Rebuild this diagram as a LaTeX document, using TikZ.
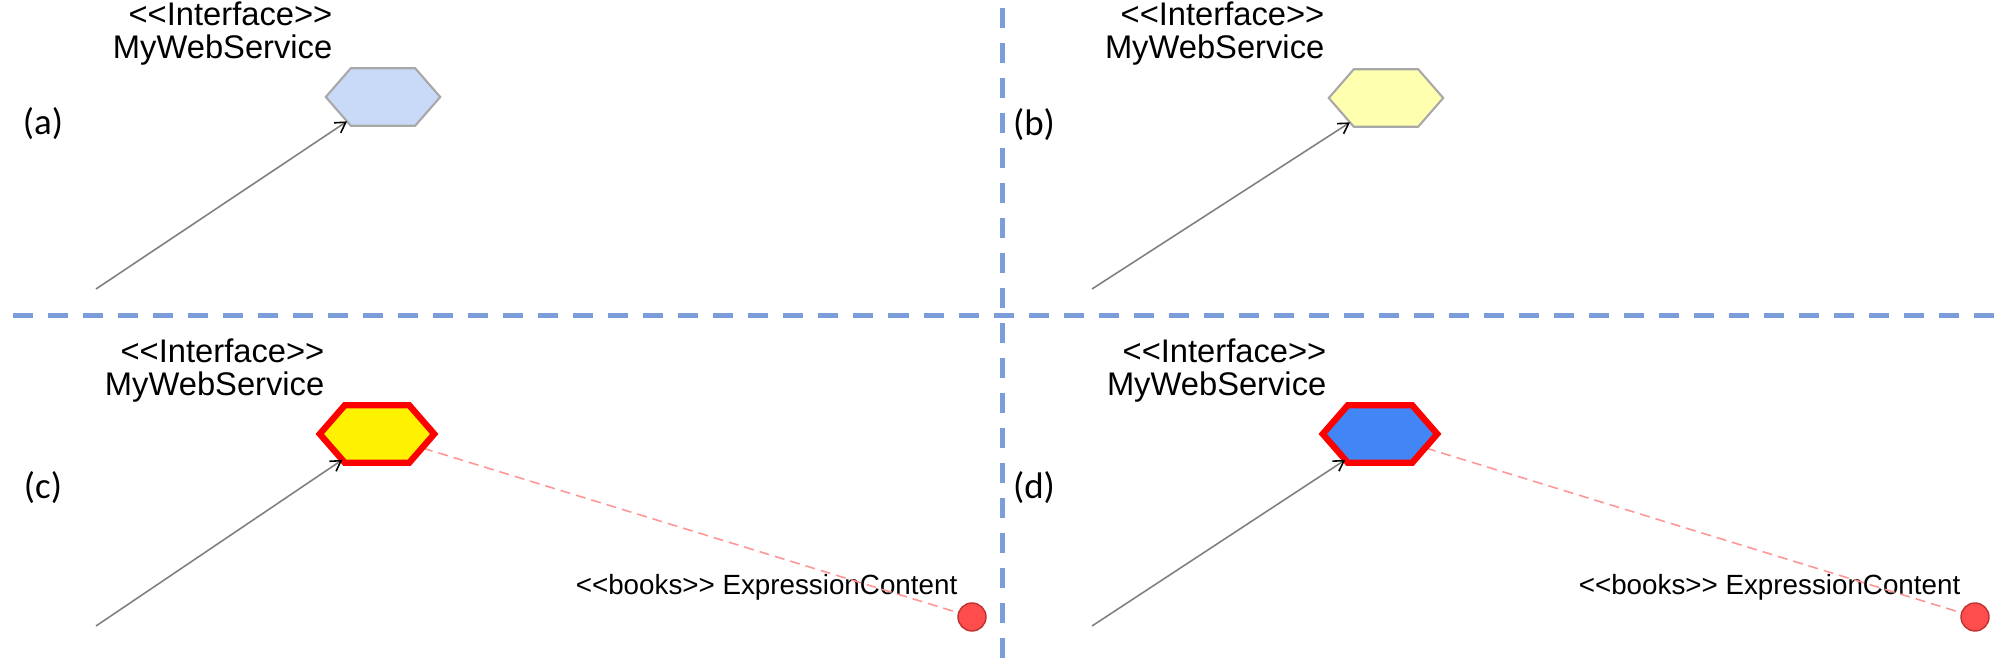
\documentclass[tikz,border=0pt]{standalone}
\usepackage{fontspec}
\newfontfamily\umlfont{Liberation Sans}
\newfontfamily\tagfont{Carlito}
\usepackage{tikz}
\usetikzlibrary{arrows.meta}
\usetikzlibrary{calc}
\definecolor{divider}{RGB}{123,157,217}
\definecolor{paleblue}{RGB}{201,218,248}
\definecolor{paleyellow}{RGB}{255,255,176}
\definecolor{hexgray}{RGB}{168,168,168}
\definecolor{strongblue}{RGB}{66,133,244}
\definecolor{dotred}{RGB}{255,77,77}
\definecolor{dotedge}{RGB}{190,50,50}
\definecolor{linkred}{RGB}{255,150,150}

\begin{document}
\begin{tikzpicture}[
      x=0.01cm, y=-0.01cm,
      iface/.style={align=right, anchor=east, inner sep=0pt,
        font=\umlfont\fontsize{9.3pt}{9.4pt}\selectfont},
      tag/.style={inner sep=0pt, font=\tagfont\fontsize{10.5pt}{12pt}\selectfont},
      hexbox/.style={minimum width=1.13cm, minimum height=0.56cm, inner sep=0pt},
      hexagon/.style={insert path={(#1.west) -- ([xshift=0.25cm]#1.north west)
        -- ([xshift=-0.25cm]#1.north east) -- (#1.east)
        -- ([xshift=-0.25cm]#1.south east) -- ([xshift=0.25cm]#1.south west) -- cycle}},
      plain/.style={draw=hexgray, line width=0.6pt},
      picked/.style={draw=red, line width=1.8pt},
      dot/.style={circle, fill=dotred, draw=dotedge, line width=0.4pt,
        minimum size=0.28cm, inner sep=0pt},
      books/.style={anchor=east, inner sep=0pt,
        font=\umlfont\fontsize{7.9pt}{9pt}\selectfont},
      link/.style={draw=gray, line width=0.45pt,
        -{Straight Barb[length=0.1cm, width=0.12cm, black]}},
      assoc/.style={draw=linkred, line width=0.45pt, dash pattern=on 0.1cm off 0.06cm},
      divider/.style={draw=divider, line width=0.05cm, dash pattern=on 0.2cm off 0.15cm}
    ]
      \useasboundingbox (0,0) rectangle (2008,668);

      % quadrant dividers
      \draw [divider, dash phase=0.22cm] (0,316) -- (2008,316);
      \draw [divider, dash phase=0.27cm] (1002,0) -- (1002,668);

      % (a)
      \node [tag] (taga) at (43,124) {(a)};
      \node [iface] (namea) at (333,34) {<<Interface>>\\MyWebService};
      \node [hexbox] (servicea) at (383,97) {};
      \draw [plain, fill=paleblue, hexagon=servicea];
      \coordinate (froma) at (96,289);
      \coordinate (tipa) at ($(servicea.west)!0.85!([xshift=0.25cm]servicea.south west)$);
      \draw [link] (froma) -- (tipa);

      % (b)
      \node [tag] (tagb) at (1034,125) {(b)};
      \node [iface] (nameb) at (1325,34) {<<Interface>>\\MyWebService};
      \node [hexbox] (serviceb) at (1386,98) {};
      \draw [plain, fill=paleyellow, hexagon=serviceb];
      \coordinate (fromb) at (1092,289);
      \coordinate (tipb) at ($(serviceb.west)!0.85!([xshift=0.25cm]serviceb.south west)$);
      \draw [link] (fromb) -- (tipb);

      % (c)
      \node [tag] (tagc) at (43,488) {(c)};
      \node [iface] (namec) at (325,371) {<<Interface>>\\MyWebService};
      \node [hexbox] (servicec) at (377,434) {};
      \node [dot] (dotc) at (972,617) {};
      \node [books] (booksc) at (958,587) {<<books>> ExpressionContent};
      \draw [assoc] (servicec.center) -- (dotc);
      \draw [picked, fill=yellow, hexagon=servicec];
      \coordinate (fromc) at (96,626);
      \coordinate (tipc) at ($(servicec.west)!0.9!([xshift=0.25cm]servicec.south west)$);
      \draw [link] (fromc) -- (tipc);

      % (d)
      \node [tag] (tagd) at (1034,488) {(d)};
      \node [iface] (named) at (1327,371) {<<Interface>>\\MyWebService};
      \node [hexbox] (serviced) at (1380,434) {};
      \node [dot] (dotd) at (1975,617) {};
      \node [books] (booksd) at (1961,587) {<<books>> ExpressionContent};
      \draw [assoc] (serviced.center) -- (dotd);
      \draw [picked, fill=strongblue, hexagon=serviced];
      \coordinate (fromd) at (1092,626);
      \coordinate (tipd) at ($(serviced.west)!0.9!([xshift=0.25cm]serviced.south west)$);
      \draw [link] (fromd) -- (tipd);
    \end{tikzpicture}
\end{document}
